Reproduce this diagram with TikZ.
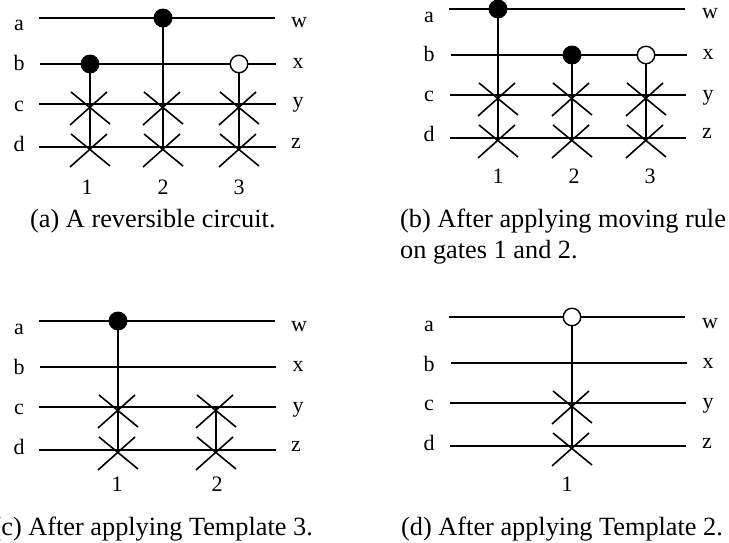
\documentclass[tikz,border=0pt]{standalone}
\usepackage{fontspec}
\setmainfont{Liberation Serif}
\tikzset{
  wire/.style={line width=1.6pt,black},
  lab/.style={anchor=base,inner sep=0pt,font=\fontsize{22}{24}\selectfont},
  captext/.style={anchor=base west,inner sep=0pt,font=\fontsize{26.3}{31}\selectfont},
  ctrlfull/.style={circle,draw=black,fill=black,line width=1.4pt,minimum size=17.5pt,inner sep=0pt},
  ctrlopen/.style={circle,draw=black,fill=white,line width=1.4pt,minimum size=17.5pt,inner sep=0pt},
  tcross/.pic={\draw[wire] (-19,-13) -- (20,19) (-20,20) -- (17,-13);}
}
\begin{document}
\begin{tikzpicture}[x=1pt,y=-1pt]
\useasboundingbox (0,0) rectangle (729,543);
% ---------- panel a
\coordinate (a1) at (39,18); \coordinate (a2) at (275,18);
\coordinate (b1) at (40,64); \coordinate (b2) at (276,64);
\coordinate (c1) at (39,104); \coordinate (c2) at (276,104);
\coordinate (d1) at (39,147); \coordinate (d2) at (276,147);
\draw[wire] (a1) -- (a2); \draw[wire] (b1) -- (b2); \draw[wire] (c1) -- (c2); \draw[wire] (d1) -- (d2);
\coordinate (g1c) at (90,105); \coordinate (g1d) at (90,147);
\coordinate (g2c) at (163,105); \coordinate (g2d) at (163,147);
\coordinate (g3c) at (239,105); \coordinate (g3d) at (239,147);
\node[ctrlfull] (g1t) at (90,64) {};
\node[ctrlfull] (g2t) at (163,18) {};
\node[ctrlopen] (g3t) at (239,64) {};
\draw[wire] (g1t) -- (g1d);
\draw[wire] (g2t) -- (g2d);
\draw[wire] (g3t) -- (g3d);
\foreach \p in {g1c,g1d,g2c,g2d,g3c,g3d} \path (\p) pic {tcross};
\node[lab] (la) at (19,31) {a}; \node[lab] (lb) at (19,71) {b}; \node[lab] (lc) at (19,111) {c}; \node[lab] (ld) at (19,151) {d};
\node[lab] (lw) at (299,28) {w}; \node[lab] (lx) at (298,69) {x}; \node[lab] (ly) at (298,108) {y}; \node[lab] (lz) at (296,148) {z};
\node[lab] (n1) at (87,194) {1}; \node[lab] (n2) at (163,194) {2}; \node[lab] (n3) at (239,194) {3};
\node[captext] (capa) at (30,227) {(a) A reversible circuit.};
% ---------- panel b
\coordinate (ba1) at (449,9); \coordinate (ba2) at (685,9);
\coordinate (bb1) at (451,55); \coordinate (bb2) at (687,55);
\coordinate (bc1) at (450,95); \coordinate (bc2) at (686,95);
\coordinate (bd1) at (450,138); \coordinate (bd2) at (686,138);
\draw[wire] (ba1) -- (ba2); \draw[wire] (bb1) -- (bb2); \draw[wire] (bc1) -- (bc2); \draw[wire] (bd1) -- (bd2);
\coordinate (h1c) at (498,96); \coordinate (h1d) at (498,138);
\coordinate (h2c) at (572,96); \coordinate (h2d) at (572,138);
\coordinate (h3c) at (646,96); \coordinate (h3d) at (646,138);
\node[ctrlfull] (h1t) at (498,9) {};
\node[ctrlfull] (h2t) at (572,55) {};
\node[ctrlopen] (h3t) at (646,55) {};
\draw[wire] (h1t) -- (h1d);
\draw[wire] (h2t) -- (h2d);
\draw[wire] (h3t) -- (h3d);
\foreach \p in {h1c,h1d,h2c,h2d,h3c,h3d} \path (\p) pic {tcross};
\node[lab] (bla) at (429,23) {a}; \node[lab] (blb) at (429,62) {b}; \node[lab] (blc) at (429,102) {c}; \node[lab] (bld) at (429,142) {d};
\node[lab] (blw) at (710,19) {w}; \node[lab] (blx) at (708,60) {x}; \node[lab] (bly) at (708,101) {y}; \node[lab] (blz) at (707,139) {z};
\node[lab] (bn1) at (498,183) {1}; \node[lab] (bn2) at (574,183) {2}; \node[lab] (bn3) at (650,183) {3};
\node[captext] (capb) at (400,227) {(b) After applying moving rule};
\node[captext] (capbb) at (400,258) {on gates 1 and 2.};
% ---------- panel c
\coordinate (ca1) at (39,321); \coordinate (ca2) at (275,321);
\coordinate (cb1) at (40,367); \coordinate (cb2) at (276,367);
\coordinate (cc1) at (39,407); \coordinate (cc2) at (276,407);
\coordinate (cd1) at (39,450); \coordinate (cd2) at (276,450);
\draw[wire] (ca1) -- (ca2); \draw[wire] (cb1) -- (cb2); \draw[wire] (cc1) -- (cc2); \draw[wire] (cd1) -- (cd2);
\coordinate (i1c) at (118,408); \coordinate (i1d) at (118,450);
\coordinate (i2c) at (216,408); \coordinate (i2d) at (216,450);
\node[ctrlfull] (i1t) at (118,321) {};
\draw[wire] (i1t) -- (i1d);
\draw[wire] (i2c) -- (i2d);
\foreach \p in {i1c,i1d,i2c,i2d} \path (\p) pic {tcross};
\node[lab] (cla) at (19,334) {a}; \node[lab] (clb) at (19,374) {b}; \node[lab] (clc) at (19,414) {c}; \node[lab] (cld) at (19,454) {d};
\node[lab] (clw) at (299,331) {w}; \node[lab] (clx) at (298,371) {x}; \node[lab] (cly) at (298,412) {y}; \node[lab] (clz) at (296,451) {z};
\node[lab] (cn1) at (117,491) {1}; \node[lab] (cn2) at (217,491) {2};
\node[captext,anchor=base east] (capc) at (313,535) {(c) After applying Template 3.};
% ---------- panel d
\coordinate (da1) at (449,317); \coordinate (da2) at (685,317);
\coordinate (db1) at (451,363); \coordinate (db2) at (687,363);
\coordinate (dc1) at (450,403); \coordinate (dc2) at (686,403);
\coordinate (dd1) at (450,446); \coordinate (dd2) at (686,446);
\draw[wire] (da1) -- (da2); \draw[wire] (db1) -- (db2); \draw[wire] (dc1) -- (dc2); \draw[wire] (dd1) -- (dd2);
\coordinate (j1c) at (572,404); \coordinate (j1d) at (572,446);
\node[ctrlopen] (j1t) at (572,317) {};
\draw[wire] (j1t) -- (j1d);
\foreach \p in {j1c,j1d} \path (\p) pic {tcross};
\node[lab] (dla) at (429,331) {a}; \node[lab] (dlb) at (429,371) {b}; \node[lab] (dlc) at (429,410) {c}; \node[lab] (dld) at (429,450) {d};
\node[lab] (dlw) at (710,328) {w}; \node[lab] (dlx) at (708,368) {x}; \node[lab] (dly) at (708,408) {y}; \node[lab] (dlz) at (707,448) {z};
\node[lab] (dn1) at (567,491) {1};
\node[captext] (capd) at (401,535) {(d) After applying Template 2.};
\end{tikzpicture}
\end{document}
